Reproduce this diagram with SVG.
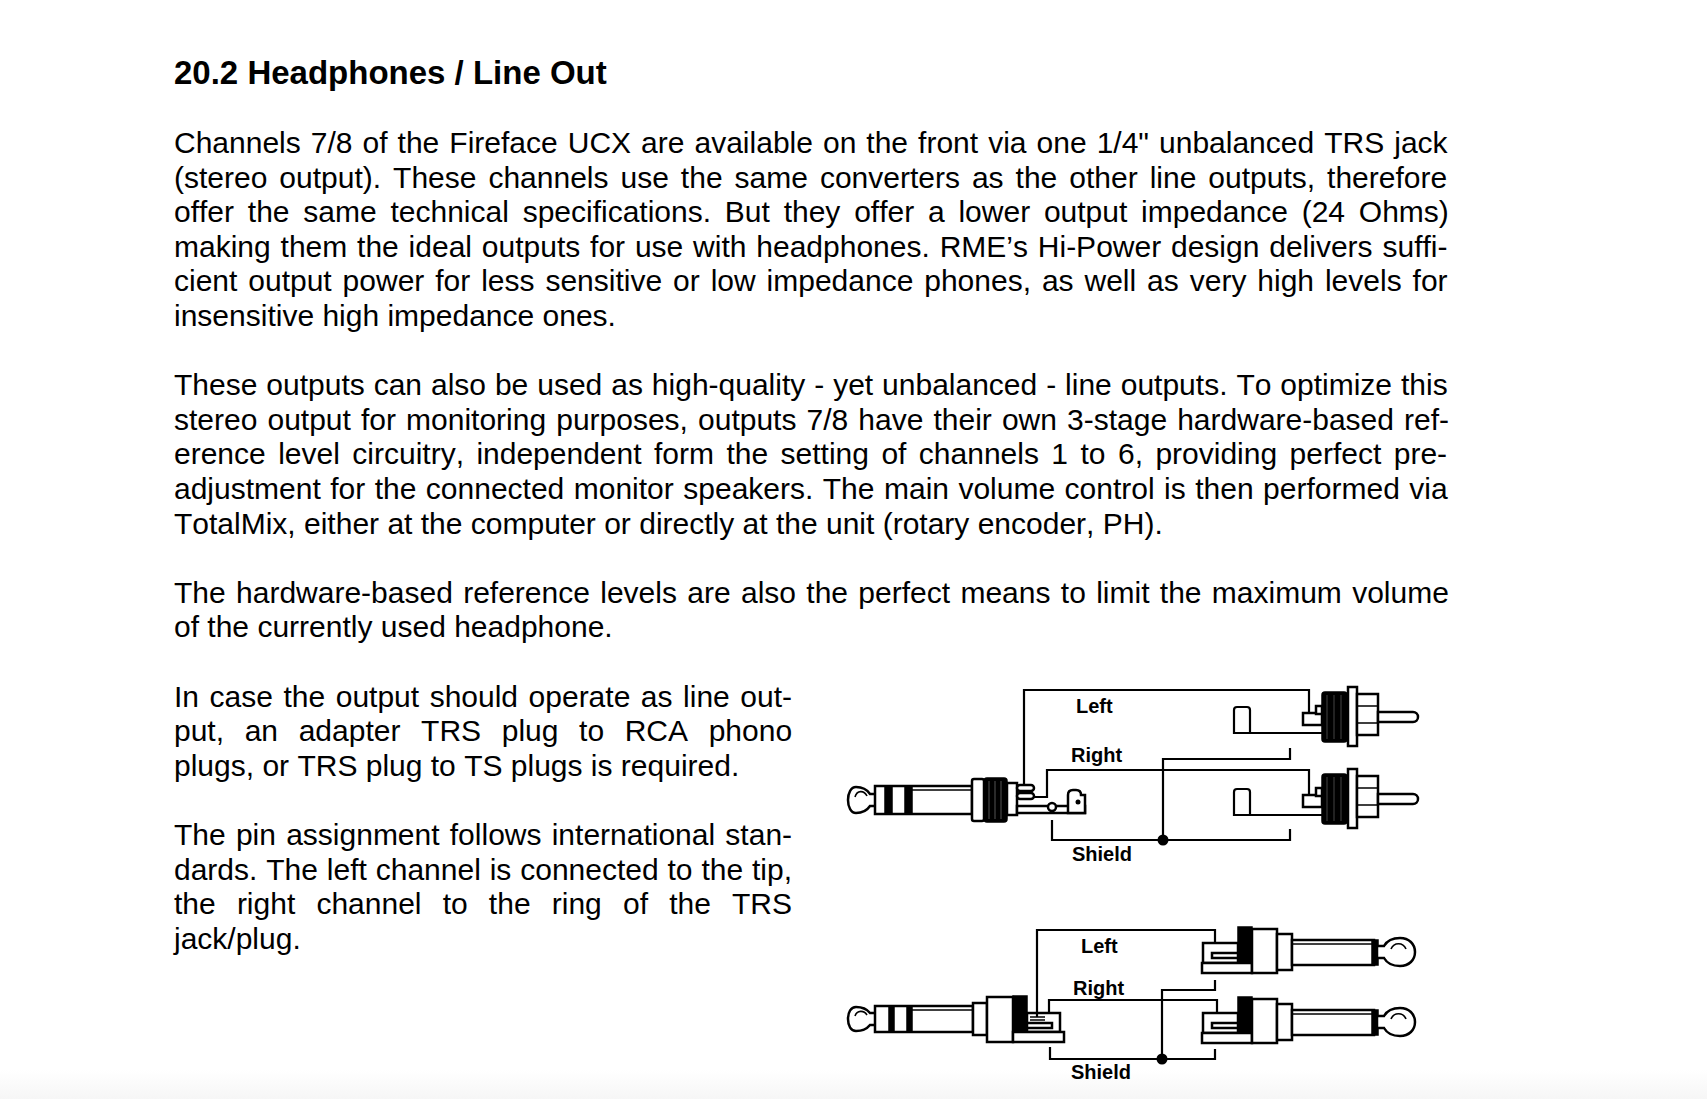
<svg xmlns="http://www.w3.org/2000/svg" width="1707" height="1099" viewBox="0 0 1707 1099">
<defs>
<style>
.h{font-family:"Liberation Sans",Arial,sans-serif;font-size:33px;font-weight:bold;fill:#000;font-kerning:none}
.t{font-family:"Liberation Sans",Arial,sans-serif;font-size:30px;fill:#000;font-kerning:none}
.lbl{font-family:"Liberation Sans",Arial,sans-serif;font-size:20px;font-weight:bold;fill:#000}
.w{fill:none;stroke:#000;stroke-width:2.2;stroke-linejoin:miter}
.ol{fill:#fff;stroke:#000;stroke-width:2.5}
.thin{fill:none;stroke:#000;stroke-width:1.6}
.blk{fill:#000;stroke:#000;stroke-width:1.5}
</style>
<linearGradient id="fade" x1="0" y1="0" x2="0" y2="1">
<stop offset="0" stop-color="#fff"/>
<stop offset="1" stop-color="#f6f6f6"/>
</linearGradient>
<g id="rca">
<path class="w" d="M1250,16 L1234,16 L1234,-7 Q1234,-10 1237,-10 L1247,-10 Q1250,-10 1250,-7 L1250,16 L1322,16" stroke-width="2.5"/>
<rect class="ol" x="1303" y="-4" width="19" height="12"/>
<rect class="ol" x="1316" y="-11" width="6" height="8"/>
<rect class="blk" x="1322" y="-25" width="25" height="50" rx="3"/>
<path d="M1327,-22 v44 M1334,-22 v44 M1341,-22 v44" stroke="#444" stroke-width="1"/>
<rect class="ol" x="1348" y="-30" width="9" height="59"/>
<rect class="ol" x="1357" y="-23" width="21" height="41"/>
<path class="thin" d="M1357,-11 H1378 M1357,6 H1378"/>
<path class="ol" d="M1378,-5 L1413,-5 A5,5 0 0 1 1413,5 L1378,5 Z"/>
</g>
<g id="ts">
<rect class="ol" x="1203" y="-9" width="35" height="20"/>
<rect class="ol" x="1212" y="1" width="26" height="5" stroke-width="1.8"/>
<rect class="ol" x="1202" y="11" width="50" height="10"/>
<rect class="blk" x="1238" y="-25" width="14" height="36"/>
<rect class="ol" x="1252" y="-23" width="25" height="44"/>
<rect class="ol" x="1277" y="-18" width="15" height="36"/>
<rect class="ol" x="1292" y="-12" width="82" height="25"/>
<path class="thin" d="M1292,-8 H1373"/>
<rect class="blk" x="1372" y="-12" width="6" height="25"/>
<path class="ol" d="M1377,-6 L1384,-6 C1388,-13 1394,-14 1400,-14 C1409,-14 1415,-8 1415,0 C1415,8 1409,14 1400,14 C1394,14 1388,13 1384,6 L1377,6 Z"/>
<path class="thin" d="M1391,-3 C1394,-10 1403,-10 1406,-3"/>
</g>
</defs>
<rect x="0" y="0" width="1707" height="1099" fill="#fff"/>
<rect x="0" y="1070" width="1707" height="29" fill="url(#fade)"/>

<g id="heading">
<text class="h" x="174" y="83.5">20.2 Headphones / Line Out</text>
</g>

<g id="para1">
<text class="t" x="174" y="153" word-spacing="1.7">Channels 7/8 of the Fireface UCX are available on the front via one 1/4" unbalanced TRS jack</text>
<text class="t" x="174" y="187.6" word-spacing="3.65">(stereo output). These channels use the same converters as the other line outputs, therefore</text>
<text class="t" x="174" y="222.2" word-spacing="5.45">offer the same technical specifications. But they offer a lower output impedance (24 Ohms)</text>
<text class="t" x="174" y="256.8" word-spacing="1.5">making them the ideal outputs for use with headphones. RME’s Hi-Power design delivers suffi-</text>
<text class="t" x="174" y="291.4" word-spacing="2.58">cient output power for less sensitive or low impedance phones, as well as very high levels for</text>
<text class="t" x="174" y="326">insensitive high impedance ones.</text>
</g>

<g id="para2">
<text class="t" x="174" y="395.2" word-spacing="0.6">These outputs can also be used as high-quality - yet unbalanced - line outputs. To optimize this</text>
<text class="t" x="174" y="429.8" word-spacing="1.75">stereo output for monitoring purposes, outputs 7/8 have their own 3-stage hardware-based ref-</text>
<text class="t" x="174" y="464.4" word-spacing="4.1">erence level circuitry, independent form the setting of channels 1 to 6, providing perfect pre-</text>
<text class="t" x="174" y="499" word-spacing="1.13">adjustment for the connected monitor speakers. The main volume control is then performed via</text>
<text class="t" x="174" y="533.6">TotalMix, either at the computer or directly at the unit (rotary encoder, PH).</text>
</g>

<g id="para3">
<text class="t" x="174" y="602.8" word-spacing="2.0">The hardware-based reference levels are also the perfect means to limit the maximum volume</text>
<text class="t" x="174" y="637.4">of the currently used headphone.</text>
</g>

<g id="para4">
<text class="t" x="174" y="706.6" word-spacing="2.2">In case the output should operate as line out-</text>
<text class="t" x="174" y="741.2" word-spacing="12.3">put, an adapter TRS plug to RCA phono</text>
<text class="t" x="174" y="775.8">plugs, or TRS plug to TS plugs is required.</text>
</g>

<g id="para5">
<text class="t" x="174" y="845" word-spacing="1.88">The pin assignment follows international stan-</text>
<text class="t" x="174" y="879.6" word-spacing="0.54">dards. The left channel is connected to the tip,</text>
<text class="t" x="174" y="914.2" word-spacing="12.84">the right channel to the ring of the TRS</text>
<text class="t" x="174" y="948.8">jack/plug.</text>
</g>

<g id="trs-plug-1">
<path class="ol" d="M876,794 L870,794 C866,788 860,787 856,787 C851,787 848,793 848,800 C848,807 851,813 856,813 C860,813 866,812 870,806 L876,806 Z"/>
<path class="thin" d="M867,796 C864,790 857,790 855,797"/>
<rect class="ol" x="875" y="786" width="97" height="28"/>
<rect class="blk" x="885" y="786" width="7" height="28"/>
<rect class="blk" x="905" y="786" width="7" height="28"/>
<path class="thin" d="M912,790 H972"/>
<rect class="ol" x="972" y="779" width="12" height="42" rx="2"/>
<rect class="blk" x="984" y="778" width="23" height="44" rx="3"/>
<path d="M989,781 v38 M995,781 v38 M1001,781 v38" stroke="#555" stroke-width="1"/>
<rect class="ol" x="1007" y="783" width="10" height="32"/>
<rect class="ol" x="1017" y="785" width="17" height="6" rx="3" stroke-width="1.8"/>
<rect class="ol" x="1017" y="793" width="17" height="6" rx="3" stroke-width="1.8"/>
<rect class="ol" x="1017" y="806" width="68" height="7" stroke-width="2"/>
<circle class="ol" cx="1052" cy="807" r="4" stroke-width="2"/>
<path class="ol" d="M1068,813 L1068,795 Q1068,790 1073,790 L1076,790 Q1081,790 1081,795 L1085,795 L1085,813 Z" stroke-width="2"/>
<circle cx="1078" cy="802" r="2.5" fill="#000"/>
</g>

<g id="rca-plug-left">
<use href="#rca" transform="translate(0,717)"/>
</g>
<g id="rca-plug-right">
<use href="#rca" transform="translate(0,799)"/>
</g>

<g id="trs-plug-2">
<path class="ol" d="M876,1013 L870,1013 C866,1008 860,1007 856,1007 C851,1007 848,1012 848,1019 C848,1026 851,1031 856,1031 C860,1031 866,1030 870,1025 L876,1025 Z"/>
<path class="thin" d="M867,1015 C864,1010 857,1010 855,1016"/>
<rect class="ol" x="875" y="1006" width="98" height="26"/>
<rect class="blk" x="889" y="1006" width="5" height="26"/>
<rect class="blk" x="907" y="1006" width="5" height="26"/>
<path class="thin" d="M912,1010 H973"/>
<rect class="ol" x="973" y="1003" width="14" height="32"/>
<rect class="ol" x="987" y="997" width="26" height="45"/>
<rect class="blk" x="1013" y="996" width="14" height="36"/>
<rect class="ol" x="1027" y="1013" width="33" height="19"/>
<rect class="ol" x="1027" y="1023" width="25" height="5" stroke-width="1.8"/>
<path class="thin" d="M1030,1017 H1045 M1030,1020 H1045"/>
<rect class="ol" x="1013" y="1032" width="51" height="10"/>
</g>

<g id="ts-plug-left">
<use href="#ts" transform="translate(0,952)"/>
</g>
<g id="ts-plug-right">
<use href="#ts" transform="translate(0,1022)"/>
</g>

<g id="connectors">
<path class="w" d="M1024,785 V690 H1309 V713"/>
<path class="w" d="M1034,797 H1047 V770 H1309 V795"/>
<path class="w" d="M1052,820 V840 H1290 V829"/>
<path class="w" d="M1163,840 V759 H1290 V748"/>
<circle cx="1163" cy="840" r="5.5" fill="#000"/>
<path class="w" d="M1037,1017 V930 H1215 V943"/>
<path class="w" d="M1049,1013 V1000 H1217 V1013"/>
<path class="w" d="M1050,1047 V1059 H1215 V1049"/>
<path class="w" d="M1162,1059 V990 H1215 V980"/>
<circle cx="1162" cy="1059" r="5.5" fill="#000"/>
</g>

<g id="labels">
<text class="lbl" x="1076" y="713">Left</text>
<text class="lbl" x="1071" y="762">Right</text>
<text class="lbl" x="1072" y="861">Shield</text>
<text class="lbl" x="1081" y="953">Left</text>
<text class="lbl" x="1073" y="995">Right</text>
<text class="lbl" x="1071" y="1079">Shield</text>
</g>
</svg>
